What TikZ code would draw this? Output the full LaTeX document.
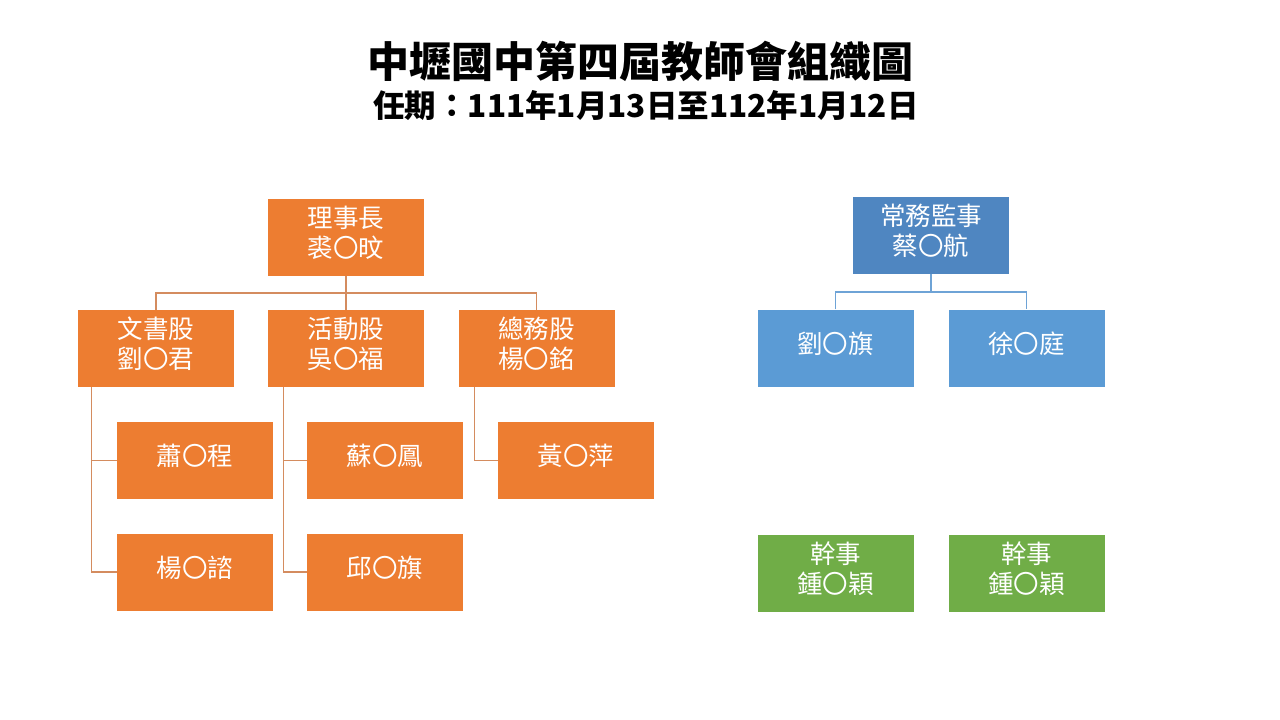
\documentclass[tikz,border=0pt]{standalone}
\usepackage{fontspec}
\setmainfont{Noto Sans CJK TC}
\definecolor{org}{RGB}{237,125,49}
\definecolor{orgline}{RGB}{212,140,95}
\definecolor{bluetop}{RGB}{79,134,193}
\definecolor{bluebox}{RGB}{91,155,213}
\definecolor{blueline}{RGB}{110,163,214}
\definecolor{grn}{RGB}{112,173,71}
\tikzset{
  box/.style={rectangle, inner sep=0pt, minimum width=156pt, minimum height=77pt,
    text=white, align=center, font=\fontsize{25.5}{30}\selectfont},
  obox/.style={box, fill=org},
  tbox/.style={box, fill=bluetop},
  bbox/.style={box, fill=bluebox},
  gbox/.style={box, fill=grn},
  lbl/.style={text=white, align=center, font=\fontsize{25.5}{30}\selectfont, inner sep=0pt},
  oline/.style={draw=orgline, line width=1.3pt},
  bline/.style={draw=blueline, line width=1.3pt}
}
\newcommand{\boxlabel}[2]{\node[lbl] at ([yshift=4.5pt]#1.center) {#2};}
\begin{document}
\begin{tikzpicture}[x=1pt,y=-1pt]
\useasboundingbox[fill=white] (0,0) rectangle (1280,720);
\node[font=\bfseries\fontsize{42}{48}\selectfont] (title) at (640,61) {中壢國中第四屆教師會組織圖};
\node[font=\bfseries\fontsize{31.5}{36}\selectfont] (sub) at (646,106) {任期：111年1月13日至112年1月12日};

% left tree
\node[obox] (root) at (346,237) {};
\node[obox] (wen) at (156,348.5) {};
\node[obox] (huo) at (346,348.5) {};
\node[obox] (zong) at (536.5,348.5) {};
\node[obox] (xiao) at (195,460.5) {};
\node[obox] (yangz) at (195,572) {};
\node[obox] (su) at (385,460.5) {};
\node[obox] (qiu) at (385,572) {};
\node[obox] (huang) at (576,460.5) {};
\boxlabel{root}{理事長\\裘〇旼}
\boxlabel{wen}{文書股\\劉〇君}
\boxlabel{huo}{活動股\\吳〇福}
\boxlabel{zong}{總務股\\楊〇銘}
\boxlabel{xiao}{蕭〇程}
\boxlabel{yangz}{楊〇諮}
\boxlabel{su}{蘇〇鳳}
\boxlabel{qiu}{邱〇旗}
\boxlabel{huang}{黃〇萍}

\coordinate (busL) at (346,293);
\draw[oline] (root.south) -- (busL);
\draw[oline] (wen.north) |- (busL) -| (zong.north);
\draw[oline] (busL) -- (huo.north);
\draw[oline] ([xshift=14pt]wen.south west) |- (xiao.west);
\draw[oline] ([xshift=14pt]wen.south west) |- (yangz.west);
\draw[oline] ([xshift=16pt]huo.south west) |- (su.west);
\draw[oline] ([xshift=16pt]huo.south west) |- (qiu.west);
\draw[oline] ([xshift=16pt]zong.south west) |- (huang.west);

% right tree
\node[tbox] (sup) at (931,235.5) {};
\node[bbox] (liu) at (835.5,348) {};
\node[bbox] (xu) at (1026.5,348) {};
\node[gbox] (g1) at (835.5,573) {};
\node[gbox] (g2) at (1026.5,573) {};
\boxlabel{sup}{常務監事\\蔡〇航}
\boxlabel{liu}{劉〇旗}
\boxlabel{xu}{徐〇庭}
\boxlabel{g1}{幹事\\鍾〇穎}
\boxlabel{g2}{幹事\\鍾〇穎}

\coordinate (busR) at (931,292);
\draw[bline] (sup.south) -- (busR);
\draw[bline] (liu.north) |- (busR) -| (xu.north);
\end{tikzpicture}
\end{document}
